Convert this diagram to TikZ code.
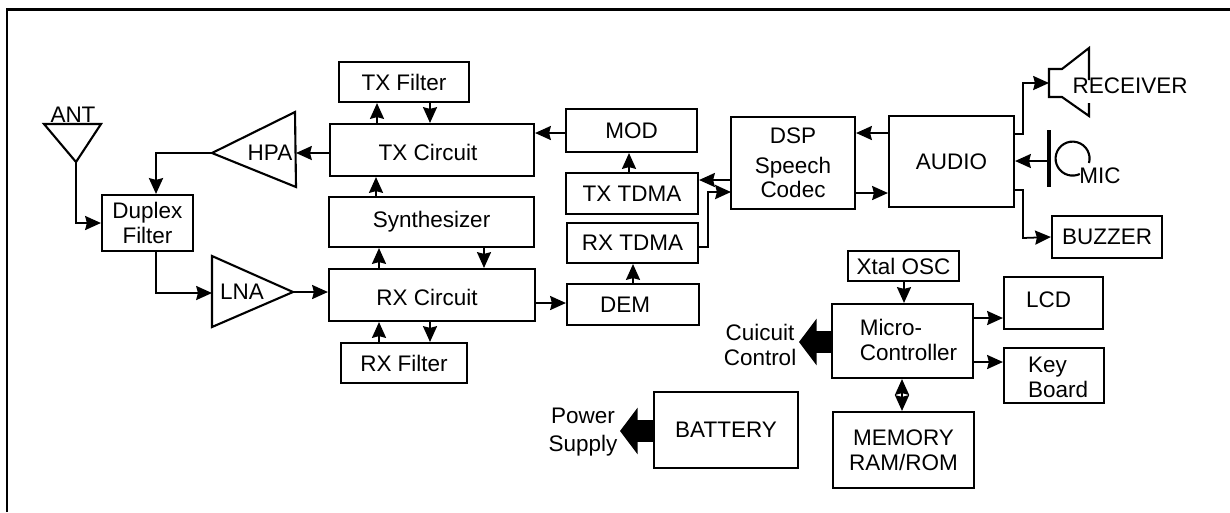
\documentclass[tikz,border=0pt]{standalone}
\usepackage{fontspec}
\setmainfont{Liberation Sans}
\usetikzlibrary{arrows.meta}
\tikzset{
  block/.style 2 args={draw, line width=1.2pt, minimum width=#1*0.02cm, minimum height=#2*0.02cm, inner sep=0pt},
  every node/.style={font=\fontsize{12.8}{14}\selectfont, align=center},
  every label/.style={align=left},
  amp/.style={draw, line width=1.2pt, line join=miter},
  link/.style={line width=1pt, -{Stealth[length=9pt,width=8pt,inset=1pt]}},
  biglink/.style={line width=13pt, -{Triangle[length=10pt,width=26pt]}},
}

\begin{document}
\begin{tikzpicture}[x=0.02cm, y=-0.02cm]
\useasboundingbox (0,0) rectangle (1230,512);

% sheet edge
\draw[line width=1.7pt] (7,512) -- (7,9) -- (1230,9);

% RF side
\node[block={130}{40}] (txfilter) at (404,82) {TX Filter};
\node[block={204}{52}, label={[shift={(-4,2)}]center:TX Circuit}] (txcircuit) at (432,150) {};
\node[block={205}{50}] (synth) at (431.5,222) {Synthesizer};
\node[block={206}{52}, label={[shift={(-5,2)}]center:RX Circuit}] (rxcircuit) at (432,295) {};
\node[block={126}{40}] (rxfilter) at (404,363) {RX Filter};
\node[block={91}{56}] (duplex) at (147.5,223) {Duplex\\Filter};

% amplifiers and antenna
\coordinate (hpatip) at (212,153);
\coordinate (hpain) at (296,153);
\coordinate (lnain) at (212,293);
\coordinate (lnatip) at (293,292);
\coordinate (anttip) at (76,162);
\coordinate (duplexport) at (156,0);
\draw[amp] (hpatip) -- (295,112) -- (296,187) -- cycle;
\draw[amp] (lnatip) -- (212,256) -- (212,327) -- cycle;
\draw[amp] (anttip) -- (44,124) -- (101,124) -- cycle;
\node (hpa) at (270,153) {HPA};
\node (lna) at (242,292) {LNA};
\node (ant) at (73,115) {ANT};

% baseband
\node[block={131}{43}] (mod) at (631.5,130.5) {MOD};
\node[block={132}{41}] (txtdma) at (632,193.5) {TX TDMA};
\node[block={131}{40}] (rxtdma) at (632.5,243) {RX TDMA};
\node[block={132}{41}, label={[shift={(-8,0)}]center:DEM}] (dem) at (633,304.5) {};
\node[block={124}{92}] (dsp) at (793,163) {DSP\\[3pt]Speech\\Codec};
\node[block={125}{91}] (audio) at (951.5,161.5) {AUDIO};
\node[block={110}{42}] (buzzer) at (1107,237) {BUZZER};

% receiver and mic
\coordinate (recin) at (1049,83);
\coordinate (micout) at (1049,161);
\draw[amp] (1089,80) -- (1089,48) -- (1062,69) -- (1049,69) -- (1049,97) -- (1062,97) -- (1089,116) -- (1089,103);
\draw[line width=2pt] (1049,130) -- (1049,187);
\draw[line width=1.2pt] (1089,163) arc[start angle=15, end angle=-295, radius=17];
\node (receiver) at (1130,86) {RECEIVER};
\node (mic) at (1100,176) {MIC};

% control side
\node[block={111}{30}] (xtal) at (903.5,266) {Xtal OSC};
\node[block={141}{74}, label={[shift={(6,-1)}]center:Micro-\\Controller}] (micro) at (902.5,341) {};
\node[block={99}{52}, label={[shift={(-5,-3)}]center:LCD}] (lcd) at (1053.5,303) {};
\node[block={100}{55}, label={[shift={(4,2)}]center:Key\\Board}] (keyboard) at (1054,375.5) {};
\node[block={141}{76}] (memory) at (903.5,450) {MEMORY\\RAM/ROM};
\node[block={144}{76}] (battery) at (726,430) {BATTERY};
\node (cuicuit) at (760,345) {Cuicuit\\Control};
\node (power) at (583,432) {Power\\[2pt]Supply};

% vertical links
\foreach \xc/\src/\dst in {377/txcircuit.north/txfilter.south, 430/txfilter.south/txcircuit.north,
    376/synth.north/txcircuit.south, 379/rxcircuit.north/synth.south, 484/synth.south/rxcircuit.north,
    379/rxfilter.north/rxcircuit.south, 430/rxcircuit.south/rxfilter.north,
    629/txtdma.north/mod.south, 633/dem.north/rxtdma.south, 904/xtal.south/micro.north}{
  \coordinate (col) at (\xc,0);
  \draw[link] (col |- \src) -- (col |- \dst);
}

% horizontal links
\foreach \yc/\src/\dst in {153/txcircuit.west/hpain, 292/lnatip/rxcircuit.west, 133/mod.west/txcircuit.east,
    303/rxcircuit.east/dem.west, 180/dsp.west/txtdma.east, 133/audio.west/dsp.east, 193/dsp.east/audio.west,
    161/micout/audio.east, 318/micro.east/lcd.west, 362/micro.east/keyboard.west}{
  \coordinate (row) at (0,\yc);
  \draw[link] (row -| \src) -- (row -| \dst);
}

% elbows
\draw[link, line width=1.3pt] (hpatip) -| (duplexport |- duplex.north);
\draw[link] (anttip) |- (duplex.west);
\draw[link] (duplexport |- duplex.south) |- (lnain);
\coordinate (rxout) at (698,247);
\coordinate (dspin) at (731,192);
\draw[link, line width=1.3pt] (rxout) -- (708,247) -- (708,192) -- (dspin);
\coordinate (audioup) at (1014,134);
\coordinate (audiodown) at (1014,190);
\coordinate (buzzin) at (buzzer.west);
\draw[link] (audioup) -- (1023,134) -- (1023,83) -- (recin);
\draw[link] (audiodown) -- (1023,190) -- (1023,238) -- (buzzin);

% memory bus
\coordinate (bus) at (902,0);
\draw[line width=1pt, {Stealth[length=9pt,width=8pt,inset=1pt]}-{Stealth[length=9pt,width=8pt,inset=1pt]}]
  (bus |- micro.south) -- (bus |- memory.north);

% big arrows
\coordinate (ctrltip) at (799,342);
\coordinate (powertip) at (620,431);
\draw[biglink] (micro.west |- ctrltip) -- (ctrltip);
\draw[biglink] (battery.west |- powertip) -- (powertip);

\end{tikzpicture}
\end{document}
